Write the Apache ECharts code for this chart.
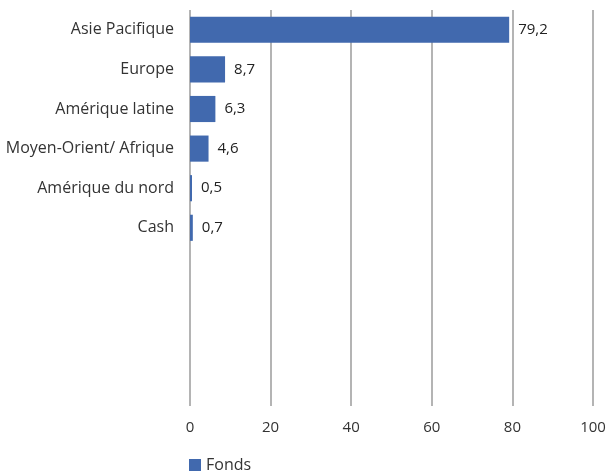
<!DOCTYPE html>
<html><head><meta charset="utf-8">
<script src="https://cdn.jsdelivr.net/npm/echarts@6/dist/echarts.min.js"></script>
<style>html,body{margin:0;padding:0;background:#fff}#c{width:611px;height:472px}</style>
</head><body><div id="c"></div>
<script>
const categories = ['Asie Pacifique','Europe','Amérique latine','Moyen-Orient/ Afrique','Amérique du nord','Cash','','','',''];
const fonds = [79.2, 8.7, 6.3, 4.6, 0.5, 0.7, null, null, null, null];
const xTicks = [0, 20, 40, 60, 80, 100];
const font = '"Open Sans", "Noto Sans", sans-serif';
const chart = echarts.init(document.getElementById('c'), null, {renderer:'canvas'});
chart.setOption({
  animation:false,
  grid:{left:190, right:18, top:10, bottom:66, containLabel:false},
  legend:{data:['Fonds'], left:184, top:452, itemWidth:12, itemHeight:12, icon:'rect', itemGap:8,
    textStyle:{fontFamily:font, fontSize:16, color:'#333'}},
  xAxis:{type:'value', min:xTicks[0], max:xTicks[xTicks.length-1], interval:20,
    axisLine:{show:false}, axisTick:{show:false},
    splitLine:{lineStyle:{color:'#b4b4b4', width:2}},
    axisLabel:{fontFamily:font, fontSize:15, color:'#333', margin:14}},
  yAxis:{type:'category', data:categories, inverse:true,
    axisLine:{show:false}, axisTick:{show:false},
    axisLabel:{fontFamily:font, fontSize:16, color:'#333', margin:16}},
  series:[{name:'Fonds', type:'bar', data:fonds, barCategoryGap:'34%',
    itemStyle:{color:'#4169ae'},
    label:{show:true, position:'right', distance:9, fontFamily:font, fontSize:15, color:'#222',
      formatter:p=>p.value==null?'':String(p.value).replace('.',',')}}]
});
</script></body></html>
